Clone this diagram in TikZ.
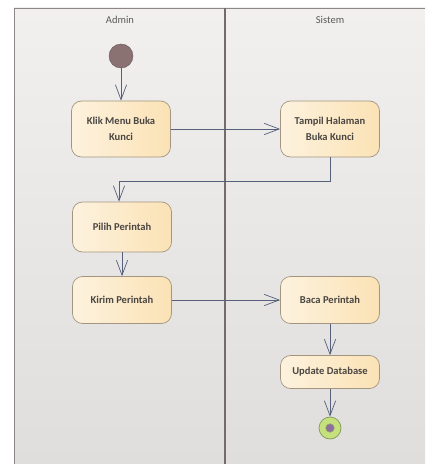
\documentclass[tikz,border=0pt]{standalone}
\usepackage{fontspec}
\setmainfont{Carlito}
\usepackage{tikz}
\usetikzlibrary{arrows.meta,positioning,calc}
\definecolor{bgtop}{HTML}{F1F0EF}
\definecolor{bgbottom}{HTML}{DFDEDD}
\definecolor{framecol}{HTML}{8C8786}
\definecolor{lanecol}{HTML}{736C6B}
\definecolor{titlecol}{HTML}{5A5A5A}
\definecolor{actborder}{HTML}{A39580}
\definecolor{actleft}{HTML}{FDF2DE}
\definecolor{actright}{HTML}{FBE2B5}
\definecolor{acttext}{HTML}{4A4642}
\definecolor{flowcol}{HTML}{56607A}
\definecolor{startcol}{HTML}{8A7273}
\definecolor{endgreen}{HTML}{C7E07E}
\definecolor{endborder}{HTML}{7F9A55}
\definecolor{enddot}{HTML}{8C6F9C}

\begin{document}
\begin{tikzpicture}[>={Straight Barb[length=4.5mm,width=3.4mm]},
  act/.style={draw=actborder,line width=0.6pt,rounded corners=3mm,left color=actleft,right color=actright,
    minimum width=2.97cm,text=acttext,font=\fontsize{9}{14}\selectfont\bfseries,align=center},
  flow/.style={->,draw=flowcol,line width=0.6pt},
  lanetitle/.style={text=titlecol,font=\fontsize{9}{11}\selectfont}]
\useasboundingbox (0,0) rectangle (12.75,-13.92);
% swimlanes
\fill[top color=bgtop,bottom color=bgbottom] (0.42,-0.24) rectangle (12.75,-13.92);
\draw[framecol,line width=0.7pt] (0.42,-13.92) -- (0.42,-0.24) -- (12.75,-0.24);
\draw[lanecol,line width=1pt] (6.75,-0.24) -- (6.75,-13.92);
\node[lanetitle] (admin) at (3.6,-0.6) {Admin};
\node[lanetitle] (sistem) at (9.9,-0.6) {Sistem};
% aktivitas
\node[circle,fill=startcol,draw=startcol!80!black,minimum size=0.72cm] (start) at (3.63,-1.68) {};
\node[act,minimum height=1.68cm] (klik) at (3.63,-3.87) {Klik Menu Buka\\Kunci};
\node[act,minimum height=1.68cm] (tampil) at (9.9,-3.87) {Tampil Halaman\\Buka Kunci};
\node[act,minimum height=1.5cm] (pilih) at (3.66,-6.81) {Pilih Perintah};
\node[act,minimum height=1.41cm] (kirim) at (3.66,-9.0) {Kirim Perintah};
\node[act,minimum height=1.41cm] (baca) at (9.9,-9.0) {Baca Perintah};
\node[act,minimum height=0.99cm] (update) at (9.9,-11.16) {Update Database};
\node[circle,fill=endgreen,draw=endborder,line width=0.6pt,minimum size=0.66cm] (final) at (9.9,-12.84) {};
\draw[endborder!70!endgreen,fill=enddot] (final) circle (0.13);
% alur
\draw[flow] (start) -- (klik);
\draw[flow] (klik) -- (tampil);
\draw[flow] (tampil.south) -- ++(0,-0.72) -| ($(pilih.north)+(-0.09,0)$);
\draw[flow] (pilih) -- (kirim);
\draw[flow] (kirim) -- (baca);
\draw[flow] (baca) -- (update);
\draw[flow] (update) -- (final);
\end{tikzpicture}
\end{document}
